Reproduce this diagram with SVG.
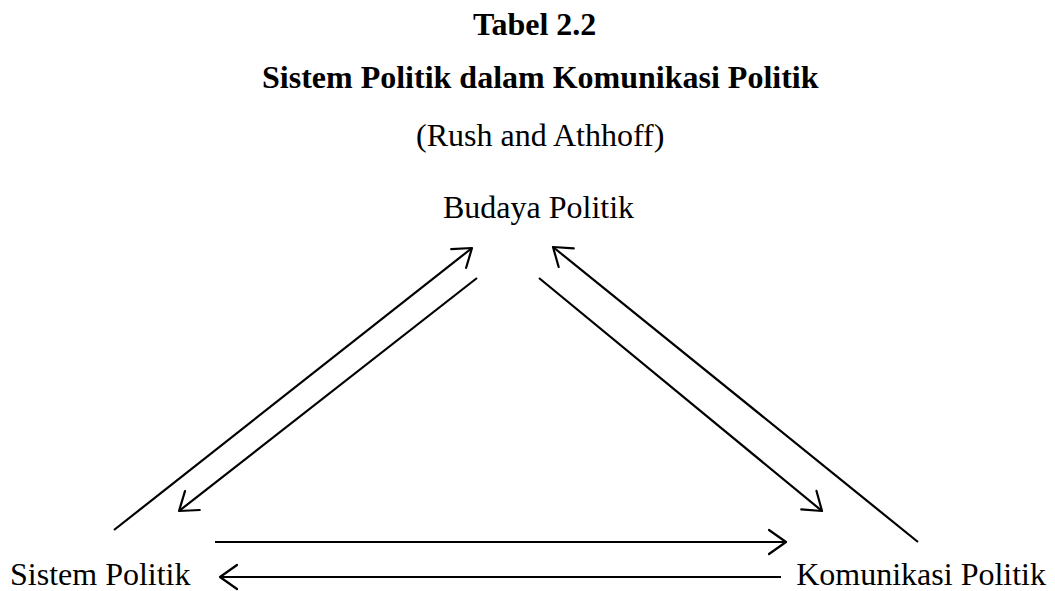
<svg xmlns="http://www.w3.org/2000/svg" width="1055" height="591" viewBox="0 0 1055 591">
<style>
.t{font-family:"Liberation Serif","Times New Roman",serif;fill:#000;font-size:32px}
.b{font-weight:bold}
.c{stroke:#000;stroke-width:2.2;fill:none}
</style>
<defs>
<marker id="ah" markerUnits="userSpaceOnUse" viewBox="-21 -14 24 28" refX="0" refY="0" markerWidth="24" markerHeight="28" orient="auto">
<path d="M-17,-12 L0,0 L-17,12" fill="none" stroke="#000" stroke-width="2.2" stroke-linejoin="round" stroke-linecap="round"/>
</marker>
</defs>
<rect width="1055" height="591" fill="#fff"/>
<g id="title">
<text class="t b" x="473" y="35">Tabel 2.2</text>
<text class="t b" x="262" y="88">Sistem Politik dalam Komunikasi Politik</text>
<text class="t" x="416" y="146">(Rush and Athhoff)</text>
</g>
<g id="budaya"><text class="t" x="443" y="218">Budaya Politik</text></g>
<g id="sistem"><text class="t" x="10" y="585">Sistem Politik</text></g>
<g id="komunikasi"><text class="t" x="1046" y="585" text-anchor="end">Komunikasi Politik</text></g>
<g id="connectors" class="c">
<line x1="114" y1="530" x2="472" y2="248" marker-end="url(#ah)"/>
<line x1="477" y1="278" x2="179" y2="511" marker-end="url(#ah)"/>
<line x1="918" y1="542" x2="553" y2="247" marker-end="url(#ah)"/>
<line x1="539" y1="278" x2="822" y2="511" marker-end="url(#ah)"/>
<line x1="215" y1="542" x2="786" y2="542" marker-end="url(#ah)"/>
<line x1="781" y1="577" x2="220" y2="577" marker-end="url(#ah)"/>
</g>
</svg>
